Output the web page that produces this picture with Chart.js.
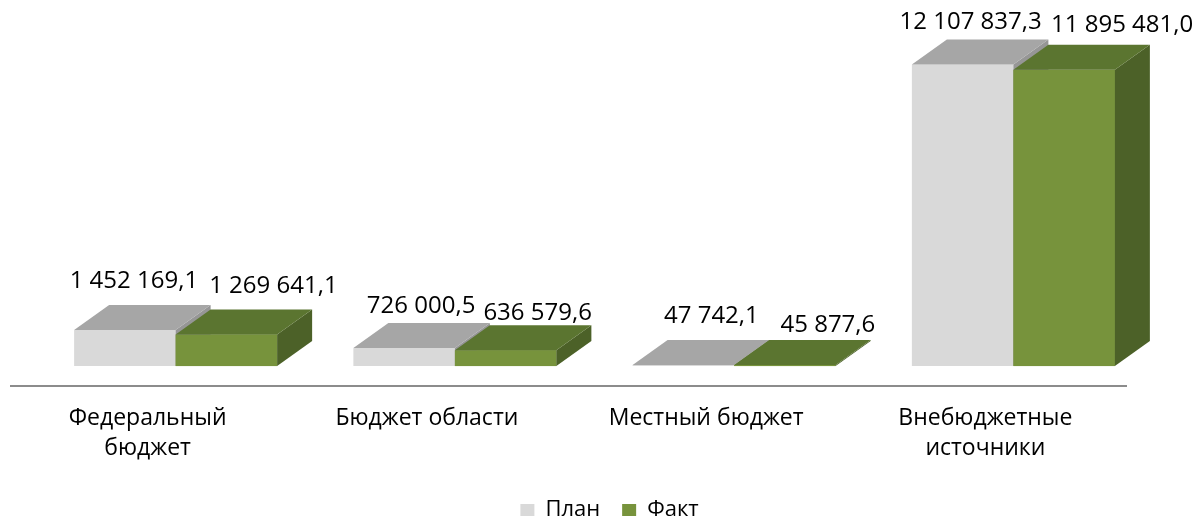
<!DOCTYPE html>
<html>
<head>
<meta charset="utf-8">
<script src="https://cdn.jsdelivr.net/npm/chart.js@4/dist/chart.umd.min.js"></script>
<style>
  html, body { margin: 0; padding: 0; background: #fff; }
  #wrap { width: 1199px; height: 522px; position: relative; }
</style>
</head>
<body>
<div id="wrap"><canvas id="myChart"></canvas></div>
<script>
var categories = [['Федеральный', 'бюджет'], 'Бюджет области', 'Местный бюджет', ['Внебюджетные', 'источники']];
var planValues = [1452169.1, 726000.5, 47742.1, 12107837.3];
var factValues = [1269641.1, 636579.6, 45877.6, 11895481.0];
var seriesNames = ['План', 'Факт'];
var seriesColors = ['#d9d9d9', '#77933c'];

// 3d look
var DX = 35, DY = -25;
var faces = [
	{ top: '#a6a6a6', side: '#969696' },
	{ top: '#5b7530', side: '#4c6128' }
];
// where the value labels sit, relative to bar centre / back top edge
var labelDx = [[9, 17, 28, 8], [47, 32, 43, 58]];
var labelDy = [[24, 17, 24, 17], [23, 12, 15, 20]];

function fmt(v) {
	var s = v.toFixed(1).split('.');
	return s[0].replace(/\B(?=(\d{3})+(?!\d))/g, ' ') + ',' + s[1];
}

function drawSide(ctx, b, color) {
	var r = b.x + b.width / 2;
	ctx.fillStyle = color;
	ctx.beginPath();
	ctx.moveTo(r, b.y);
	ctx.lineTo(r + DX, b.y + DY);
	ctx.lineTo(r + DX, b.base + DY);
	ctx.lineTo(r, b.base);
	ctx.closePath();
	ctx.fill();
}

function drawTop(ctx, b, color) {
	var l = b.x - b.width / 2, r = b.x + b.width / 2;
	ctx.fillStyle = color;
	ctx.beginPath();
	ctx.moveTo(l, b.y);
	ctx.lineTo(r, b.y);
	ctx.lineTo(r + DX, b.y + DY);
	ctx.lineTo(l + DX, b.y + DY);
	ctx.closePath();
	ctx.fill();
}

var bar3d = {
	id: 'bar3d',
	afterLayout: function(chart) {
		// legend sits a bit right of the plot centre
		chart.legend.left += 15;
		chart.legend.right += 15;
	},
	beforeDatasetsDraw: function(chart) {
		var ctx = chart.ctx, x = chart.scales.x, a = chart.chartArea;
		ctx.save();
		ctx.strokeStyle = '#8c8c8c';
		ctx.lineWidth = 2;
		ctx.beginPath();
		ctx.moveTo(x.left - 26, a.bottom);
		ctx.lineTo(x.right - 26, a.bottom);
		ctx.stroke();
		ctx.restore();
	},
	afterDatasetsDraw: function(chart) {
		var ctx = chart.ctx;
		var plan = chart.getDatasetMeta(0).data;
		var fact = chart.getDatasetMeta(1).data;
		ctx.save();
		plan.forEach(function(p, i) {
			var f = fact[i];
			drawSide(ctx, p, faces[0].side);
			drawTop(ctx, p, faces[0].top);
			// front of the second bar goes over the first bar's side
			ctx.fillStyle = seriesColors[1];
			ctx.fillRect(f.x - f.width / 2, f.y, f.width, f.base - f.y);
			drawSide(ctx, f, faces[1].side);
			drawTop(ctx, f, faces[1].top);
		});
		ctx.restore();
	},
	afterDraw: function(chart) {
		var ctx = chart.ctx;
		ctx.save();
		ctx.font = '24px "Open Sans"';
		ctx.fillStyle = '#000';
		ctx.textAlign = 'center';
		ctx.textBaseline = 'middle';
		[0, 1].forEach(function(d) {
			var meta = chart.getDatasetMeta(d);
			meta.data.forEach(function(b, i) {
				var v = chart.data.datasets[d].data[i];
				ctx.fillText(fmt(v), b.x + labelDx[d][i], b.y + DY - labelDy[d][i]);
			});
		});
		ctx.restore();
	}
};

var ctx = document.getElementById('myChart');
var myChart = new Chart(ctx, {
	type: 'bar',
	data: {
		labels: categories,
		datasets: [
			{ label: seriesNames[0], data: planValues, backgroundColor: seriesColors[0] },
			{ label: seriesNames[1], data: factValues, backgroundColor: seriesColors[1] }
		]
	},
	options: {
		responsive: true,
		maintainAspectRatio: false,
		animation: false,
		layout: { padding: { left: 36, right: 46, top: 0, bottom: -9 } },
		datasets: { bar: { barPercentage: 1, categoryPercentage: 0.727 } },
		scales: {
			x: {
				grid: { display: false },
				border: { display: false },
				afterFit: function(s) { s.height += 5; },
				ticks: {
					labelOffset: -28,
					padding: 9,
					color: '#000',
					font: { family: 'Open Sans', size: 23, lineHeight: '30px' },
					maxRotation: 0,
					autoSkip: false
				}
			},
			y: {
				display: false,
				min: -800000,
				max: 14700000
			}
		},
		plugins: {
			legend: {
				position: 'bottom',
				labels: {
					color: '#000',
					boxWidth: 14,
					boxHeight: 12,
					padding: 22,
					font: { family: 'Open Sans', size: 22 }
				}
			},
			tooltip: { enabled: false }
		}
	},
	plugins: [bar3d]
});
</script>
</body>
</html>
